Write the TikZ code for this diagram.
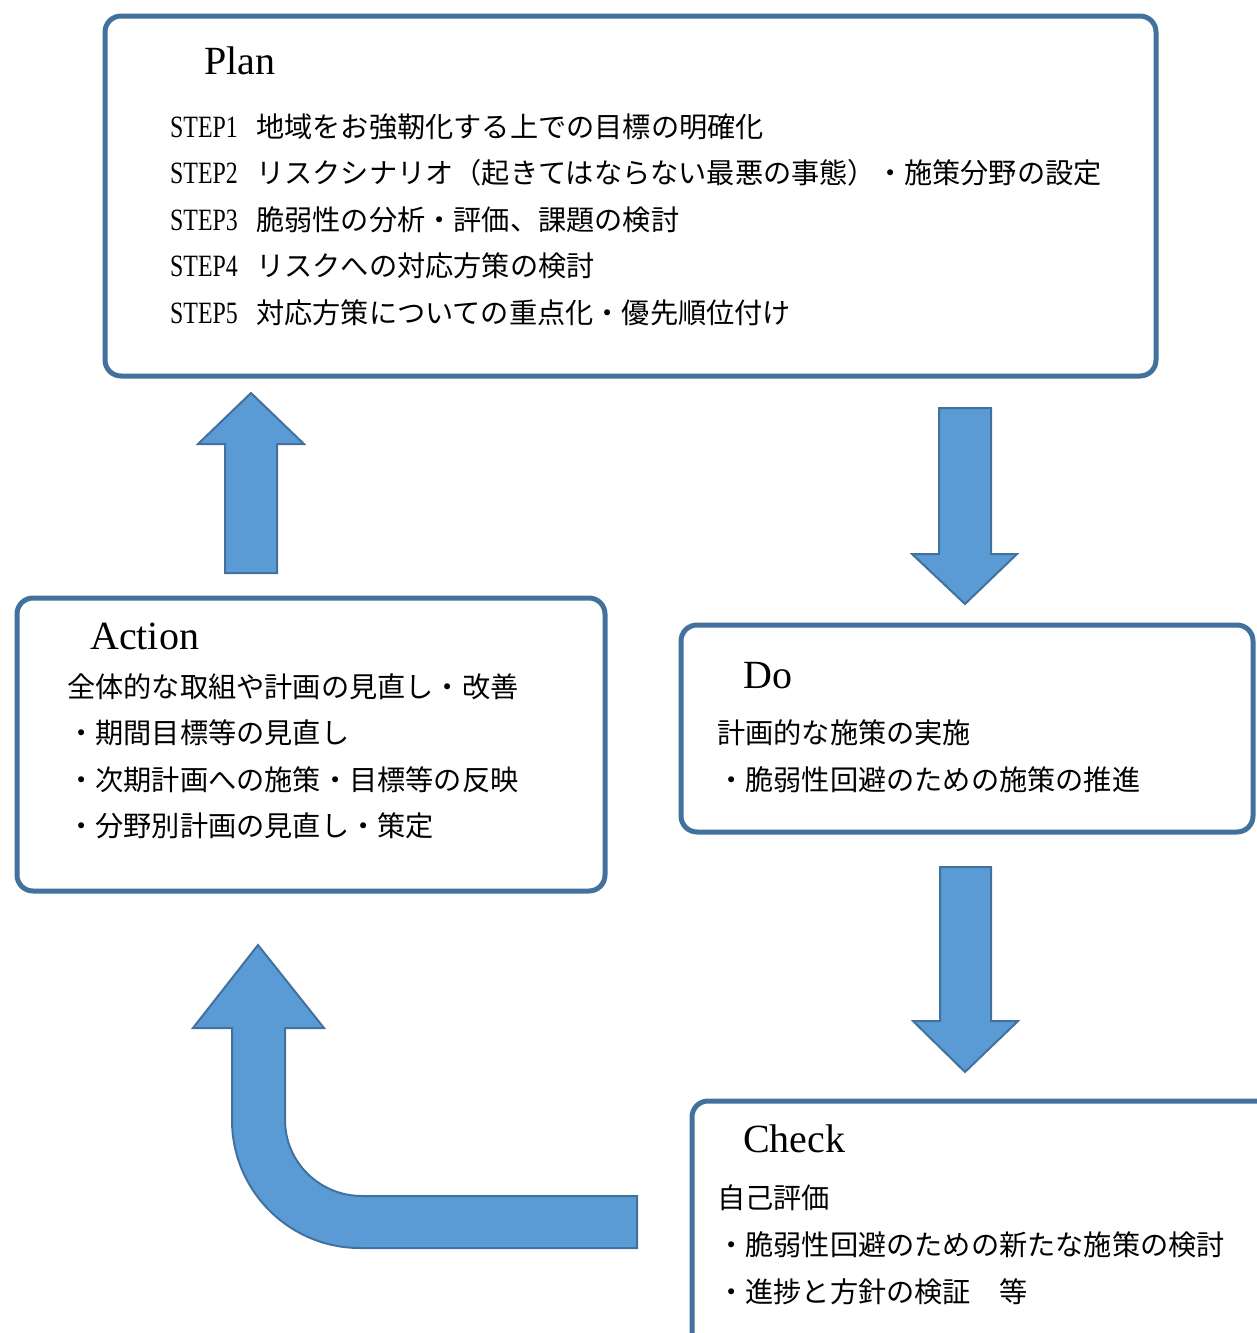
\documentclass[tikz,border=0pt]{standalone}
\usepackage{fontspec}
\usepackage{graphicx}
\setmainfont{Liberation Serif}
\newfontfamily\jp{Noto Sans CJK JP}
\definecolor{edgeblue}{RGB}{65,113,156}
\definecolor{fillblue}{RGB}{91,155,213}
\newcommand\steplab[1]{\makebox[86pt][l]{\rmfamily\fontsize{31}{31}\selectfont\scalebox{0.77}[1]{#1}}}
\begin{document}
\begin{tikzpicture}[x=1pt,y=-1pt,
  box/.style={draw=edgeblue, line width=5pt, rounded corners=16pt, fill=white,
              inner sep=0pt, outer sep=0pt, anchor=north west},
  ttl/.style={anchor=base west, inner sep=0pt, font=\fontsize{40}{40}\selectfont},
  jtext/.style={anchor=base west, inner sep=0pt, font=\jp\fontsize{28.2}{28.2}\selectfont},
  blockarrow/.style={fill=fillblue, draw=edgeblue, line width=2pt, line join=miter}]
\useasboundingbox (0,0) rectangle (1257,1333);
\clip (0,0) rectangle (1257,1333);

% boxes
\node[box, minimum width=1051pt, minimum height=360pt] (plan) at (105,16) {};
\node[box, minimum width=588pt, minimum height=293pt] (action) at (17,598) {};
\node[box, minimum width=572pt, minimum height=207pt] (do) at (681,625) {};
\node[box, minimum width=620pt, minimum height=320pt] (check) at (692,1101) {};

% Plan
\node[ttl] (plant) at (204,74) {Plan};
\node[jtext] (p1) at (170,137) {\steplab{STEP1}地域をお強靭化する上での目標の明確化};
\node[jtext] (p2) at (170,183.5) {\steplab{STEP2}リスクシナリオ（起きてはならない最悪の事態）・施策分野の設定};
\node[jtext] (p3) at (170,230) {\steplab{STEP3}脆弱性の分析・評価、課題の検討};
\node[jtext] (p4) at (170,276.5) {\steplab{STEP4}リスクへの対応方策の検討};
\node[jtext] (p5) at (170,323) {\steplab{STEP5}対応方策についての重点化・優先順位付け};

% Action
\node[ttl] (actiont) at (90,649) {Action};
\node[jtext] (a1) at (67,697) {全体的な取組や計画の見直し・改善};
\node[jtext] (a2) at (67,743.5) {・期間目標等の見直し};
\node[jtext] (a3) at (67,790) {・次期計画への施策・目標等の反映};
\node[jtext] (a4) at (67,836.5) {・分野別計画の見直し・策定};

% Do
\node[ttl] (dot) at (743,688) {Do};
\node[jtext] (d1) at (717,743.5) {計画的な施策の実施};
\node[jtext] (d2) at (717,790) {・脆弱性回避のための施策の推進};

% Check
\node[ttl] (checkt) at (743,1152) {Check};
\node[jtext] (c1) at (717,1208) {自己評価};
\node[jtext] (c2) at (717,1255) {・脆弱性回避のための新たな施策の検討};
\node[jtext] (c3) at (717,1302) {・進捗と方針の検証　等};

% block arrows
\draw[blockarrow] (225,573) -- (225,444) -- (198,444) -- (251,393) -- (304,444)
  -- (277,444) -- (277,573) -- cycle;
\draw[blockarrow] (939,408) -- (991,408) -- (991,554) -- (1017,554) -- (965,604)
  -- (912,554) -- (939,554) -- cycle;
\draw[blockarrow] (940,867) -- (991,867) -- (991,1021) -- (1018,1021) -- (965,1072)
  -- (913,1021) -- (940,1021) -- cycle;
\draw[blockarrow] (637,1196) -- (362,1196)
  .. controls (319.5,1196) and (285,1162) .. (285,1120)
  -- (285,1028) -- (324,1028) -- (258,945) -- (193,1028) -- (232,1028) -- (232,1120)
  .. controls (232,1190.7) and (289.3,1248) .. (360,1248)
  -- (637,1248) -- cycle;
\end{tikzpicture}
\end{document}
